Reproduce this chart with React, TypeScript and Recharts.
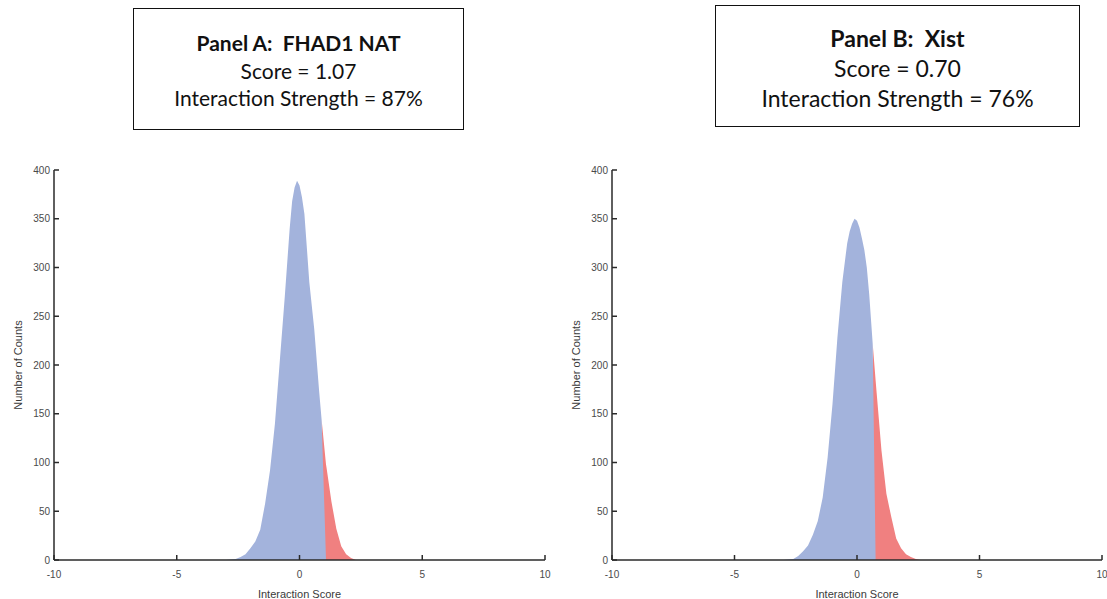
import { AreaChart, Area, XAxis, YAxis } from 'recharts';

// Panel A: FHAD1 NAT (score 1.07)
const scoreXA = [-3.0, -2.6, -2.4, -2.2, -2.0, -1.8, -1.6, -1.4, -1.2, -1.0, -0.8, -0.6, -0.4, -0.3, -0.2, -0.1, 0.0, 0.1, 0.2, 0.4, 0.6, 0.8, 0.9, 1.08, 1.1, 1.3, 1.5, 1.7, 1.9, 2.1, 2.3];
const belowA = [0, 1, 3, 6, 12, 19, 31, 58, 92, 140, 205, 270, 340, 368, 382, 389, 384, 372, 355, 285, 237, 173, 144, 0, null, null, null, null, null, null, null];
const aboveA = [null, null, null, null, null, null, null, null, null, null, null, null, null, null, null, null, null, null, null, null, null, null, 144, 98, 95, 60, 32, 14, 6, 2, 0];

// Panel B: Xist (score 0.70)
const scoreXB = [-3.0, -2.6, -2.4, -2.2, -2.0, -1.8, -1.6, -1.4, -1.2, -1.0, -0.8, -0.6, -0.4, -0.3, -0.2, -0.1, 0.0, 0.1, 0.2, 0.3, 0.4, 0.5, 0.64, 0.76, 0.8, 1.0, 1.2, 1.4, 1.6, 1.8, 2.0, 2.2, 2.4, 2.6];
const belowB = [0, 1, 4, 9, 15, 26, 40, 64, 105, 160, 228, 285, 325, 337, 345, 350, 348, 341, 330, 318, 300, 272, 222, 0, null, null, null, null, null, null, null, null, null, null];
const aboveB = [null, null, null, null, null, null, null, null, null, null, null, null, null, null, null, null, null, null, null, null, null, null, 222, 184, 172, 112, 68, 44, 22, 12, 6, 3, 1, 0];

const xTicks = [-10, -5, 0, 5, 10];
const yTicks = [0, 50, 100, 150, 200, 250, 300, 350, 400];

const BLUE = '#a3b3dc';
const RED = '#f08080';
const AXIS = '#2a2a2a';
const tickStyle = { fill: '#4a4a4a', fontSize: 10, fontFamily: 'Liberation Sans, Arial, sans-serif' };

function Histogram({ xs, below, above, left, width, margin }: any) {
    const rows = xs.map((x: number, i: number) => ({ x, below: below[i], above: above[i] }));
    return (
        <div style={{ position: 'absolute', left, top: 0 }}>
            <AreaChart width={width} height={599} data={rows} margin={margin}>
                <XAxis
                    dataKey="x"
                    type="number"
                    domain={[-10, 10]}
                    ticks={xTicks}
                    height={39}
                    tick={tickStyle}
                    tickSize={-5}
                    tickMargin={16}
                    stroke={AXIS}
                    strokeWidth={1.5}
                    label={{
                        value: 'Interaction Score',
                        position: 'insideBottom',
                        offset: 1,
                        style: { fill: '#3a3a3a', fontSize: 11, fontFamily: 'Liberation Sans, Arial, sans-serif' },
                    }}
                />
                <YAxis
                    type="number"
                    domain={[0, 400]}
                    ticks={yTicks}
                    width={40}
                    tick={tickStyle}
                    tickSize={-5}
                    tickMargin={9}
                    stroke={AXIS}
                    strokeWidth={1.5}
                    label={{
                        value: 'Number of Counts',
                        angle: -90,
                        position: 'insideLeft',
                        offset: 4,
                        style: { textAnchor: 'middle', fill: '#3a3a3a', fontSize: 11, fontFamily: 'Liberation Sans, Arial, sans-serif' },
                    }}
                />
                <Area
                    type="linear"
                    dataKey="above"
                    stroke="none"
                    fill={RED}
                    fillOpacity={1}
                    isAnimationActive={false}
                />
                <Area
                    type="linear"
                    dataKey="below"
                    stroke="none"
                    fill={BLUE}
                    fillOpacity={1}
                    isAnimationActive={false}
                />
            </AreaChart>
        </div>
    );
}

function TitleBox({ left, top, width, height, fontSize, lineHeight, padTop, lines }: any) {
    return (
        <div
            style={{
                position: 'absolute',
                left,
                top,
                width,
                height,
                boxSizing: 'border-box',
                border: '1.5px solid #111',
                paddingTop: padTop,
                textAlign: 'center',
                fontFamily: 'Lato, Carlito, sans-serif',
                fontSize,
                lineHeight: `${lineHeight}px`,
                color: '#111',
                whiteSpace: 'pre',
            }}
        >
            <div style={{ fontWeight: 700 }}>{lines[0]}</div>
            <div>{lines[1]}</div>
            <div>{lines[2]}</div>
        </div>
    );
}

export default function App() {
    return (
        <div style={{ position: 'absolute', left: 0, top: 0, width: 1107, height: 599, background: '#fff', overflow: 'hidden' }}>
            <Histogram xs={scoreXA} below={belowA} above={aboveA} left={0} width={553} margin={{ top: 170, right: 8, bottom: 0, left: 14 }} />
            <Histogram xs={scoreXB} below={belowB} above={aboveB} left={553} width={554} margin={{ top: 170, right: 5, bottom: 0, left: 19 }} />
            <TitleBox
                left={133}
                top={8}
                width={331}
                height={122}
                fontSize={21}
                lineHeight={27.5}
                padTop={20}
                lines={['Panel A:  FHAD1 NAT', 'Score = 1.07', 'Interaction Strength = 87%']}
            />
            <TitleBox
                left={715}
                top={5}
                width={365}
                height={122}
                fontSize={23}
                lineHeight={30}
                padTop={17}
                lines={['Panel B:  Xist', 'Score = 0.70', 'Interaction Strength = 76%']}
            />
        </div>
    );
}
